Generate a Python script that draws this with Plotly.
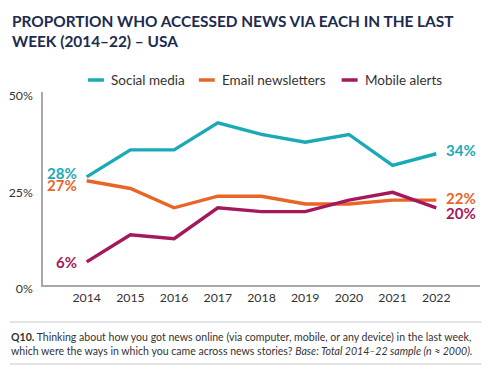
import plotly.graph_objects as go

years = [2014, 2015, 2016, 2017, 2018, 2019, 2020, 2021, 2022]
series_names = ["Social media", "Email newsletters", "Mobile alerts"]
social_media = [28, 35, 35, 42, 39, 37, 39, 31, 34]
email_newsletters = [27, 25, 20, 23, 23, 21, 21, 22, 22]
mobile_alerts = [6, 13, 12, 20, 19, 19, 22, 24, 20]
y_ticks = [0, 25, 50]
y_tick_labels = ["0%", "25%", "50%"]

colors = ["#1AAAB5", "#EA6428", "#A3195B"]
values = [social_media, email_newsletters, mobile_alerts]
FONT = "Lato"

# page body has an 8px margin: work in reference pixels, offset by 8
OFF = 8
W, H = 500 - OFF, 371 - OFF
L, R, T, B = 43 - OFF, 480.5 - OFF, 92 - OFF, 285 - OFF


def px(xp):
    return (xp - OFF - L) / (R - L)


def py(yp):
    return (B - (yp - OFF)) / (B - T)


fig = go.Figure()
for name, vals, col in zip(series_names, values, colors):
    fig.add_trace(go.Scatter(x=years, y=vals, mode="lines", name=name,
                             line=dict(color=col, width=3.4), showlegend=False))

ann = []
start_shift = [4, -4, 0]
for vals, col, sh in zip(values, colors, start_shift):
    ann.append(dict(x=years[0], y=vals[0], xref="x", yref="y", text=f"<b>{vals[0]}%</b>",
                    showarrow=False, xanchor="right", xshift=-8, yshift=sh,
                    font=dict(family=FONT, size=15, color=col)))
end_shift = [4, 2, -5]
for vals, col, sh in zip(values, colors, end_shift):
    ann.append(dict(x=years[-1], y=vals[-1], xref="x", yref="y", text=f"<b>{vals[-1]}%</b>",
                    showarrow=False, xanchor="left", xshift=8, yshift=sh,
                    font=dict(family=FONT, size=15, color=col)))

# title
ann.append(dict(x=px(10), y=py(10), xref="paper", yref="paper", xanchor="left", yanchor="top",
                align="left", showarrow=False,
                text="<b>PROPORTION WHO ACCESSED NEWS VIA EACH IN THE LAST<br>WEEK (2014–22) – USA</b>",
                font=dict(family=FONT, size=15.4, color="#1C2B4E")))

# manual legend
leg_x = [88, 199, 342]
shapes = []
for lx, name, col in zip(leg_x, series_names, colors):
    shapes.append(dict(type="line", xref="paper", yref="paper",
                       x0=px(lx), x1=px(lx + 16), y0=py(80), y1=py(80),
                       line=dict(color=col, width=3.5)))
    ann.append(dict(x=px(lx + 21), y=py(80), xref="paper", yref="paper", text=name,
                    showarrow=False, xanchor="left", yanchor="middle",
                    font=dict(family=FONT, size=13.5, color="#333333")))

# footnote rules
for yy in [322, 364]:
    shapes.append(dict(type="line", xref="paper", yref="paper",
                       x0=px(10), x1=px(482), y0=py(yy), y1=py(yy),
                       line=dict(color="#C8C8C8", width=1)))
ann.append(dict(x=px(9), y=py(329), xref="paper", yref="paper", xanchor="left", yanchor="top",
                align="left", showarrow=False,
                text="<b>Q10.</b> Thinking about how you got news online (via computer, mobile, or any device) in the last week,<br>"
                     "which were the ways in which you came across news stories? <i>Base: Total 2014–22 sample (n ≈ 2000).</i>",
                font=dict(family=FONT, size=10.55, color="#333333")))

fig.update_layout(
    width=W, height=H,
    margin=dict(l=L, r=W - R, t=T, b=H - B, autoexpand=False),
    paper_bgcolor="white", plot_bgcolor="white",
    annotations=ann, shapes=shapes,
    xaxis=dict(range=[2013, 2023], tickvals=years, ticktext=[str(y) for y in years],
               showgrid=False, zeroline=False, showline=True, linecolor="#A8A8A8", linewidth=1.5,
               ticks="", automargin=False,
               tickfont=dict(family=FONT, size=12.3, color="#333333"), fixedrange=True),
    yaxis=dict(range=[0, 50], tickvals=y_ticks, ticktext=y_tick_labels,
               showgrid=False, zeroline=False, showline=True, linecolor="#A8A8A8", linewidth=1.5,
               ticks="", ticklabelstandoff=6, ticklabelshift=4, automargin=False,
               tickfont=dict(family=FONT, size=12.3, color="#333333"), fixedrange=True),
)

fig.write_html("out.html")
